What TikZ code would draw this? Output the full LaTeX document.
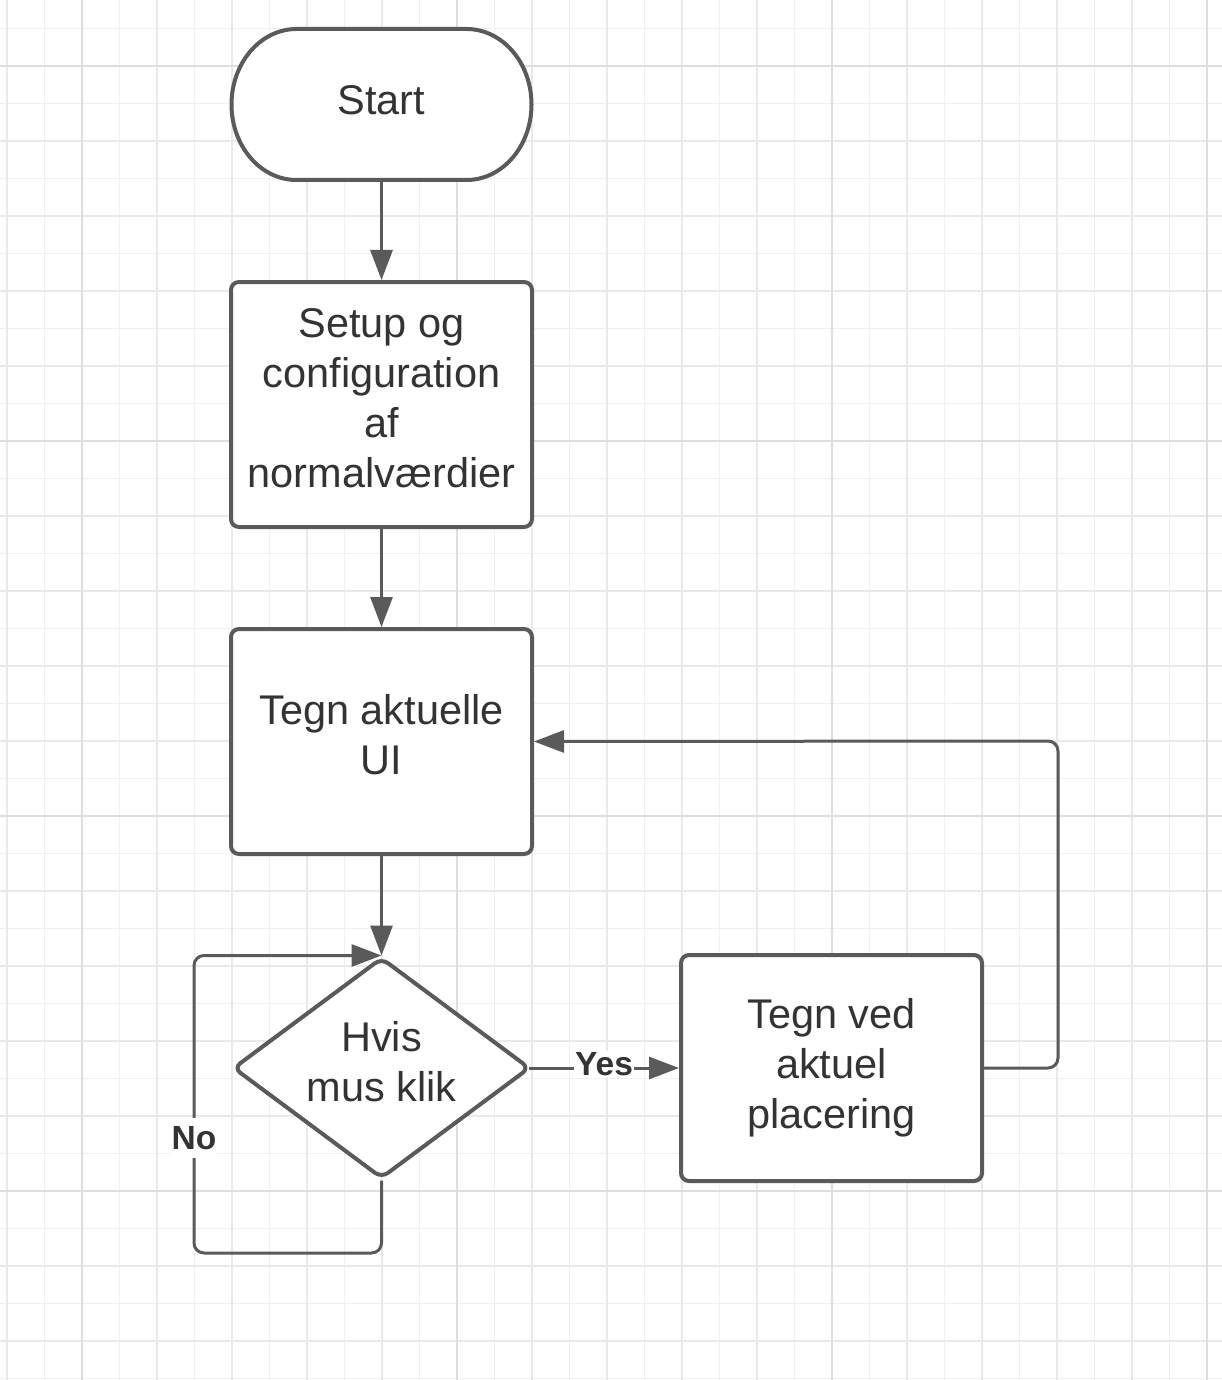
\documentclass[tikz,border=0pt]{standalone}
\usepackage{fontspec}
\setmainfont{Liberation Sans}
\usetikzlibrary{arrows.meta,shapes.geometric}
\definecolor{edgec}{HTML}{5A5A5A}
\definecolor{txtc}{HTML}{333333}
\definecolor{gminor}{HTML}{F0F0F0}
\definecolor{gmid}{HTML}{E9E9E9}
\definecolor{gmajor}{HTML}{DEDEDE}
\begin{document}
\begin{tikzpicture}[x=1pt,y=-1pt,
  shapebox/.style={draw=edgec,line width=4pt,rounded corners=8pt,fill=white,inner sep=0pt},
  ghost/.style={inner sep=0pt,minimum width=301pt,minimum height=151pt},
  txt/.style={text=txtc,align=center,font=\fontsize{41.5}{50}\selectfont},
  lbl/.style={text=txtc,fill=white,inner sep=1pt,font=\fontsize{33.5}{38}\selectfont\bfseries},
  conn/.style={draw=edgec,line width=3pt,-{Triangle[length=30pt,width=22pt]}}]
\useasboundingbox (0,0) rectangle (1222,1380);
\fill[white] (0,0) rectangle (1222,1380);
% grid
\foreach \i in {-2,...,30} {
  \pgfmathsetmacro\gx{82+37.5*\i}
  \draw[gminor,line width=1.5pt] (\gx,0) -- (\gx,1380);
}
\foreach \i in {-1,...,36} {
  \pgfmathsetmacro\gy{66+37.5*\i}
  \draw[gminor,line width=1.5pt] (0,\gy) -- (1222,\gy);
}
\foreach \i in {-1,...,15} {
  \pgfmathsetmacro\gx{82+75*\i}
  \draw[gmid,line width=1.7pt] (\gx,0) -- (\gx,1380);
}
\foreach \i in {-1,...,18} {
  \pgfmathsetmacro\gy{66+75*\i}
  \draw[gmid,line width=1.7pt] (0,\gy) -- (1222,\gy);
}
\foreach \gx in {82,457,832,1207} \draw[gmajor,line width=2pt] (\gx,0) -- (\gx,1380);
\foreach \gy in {66,441,816,1191} \draw[gmajor,line width=2pt] (0,\gy) -- (1222,\gy);

% Start terminal
\node[ghost] (start) at (381.5,104.5) {};
\filldraw[draw=edgec,fill=white,line width=4pt]
  (296.5,29) -- (466.5,29) arc[start angle=-90,end angle=90,x radius=65,y radius=75.5]
  -- (296.5,180) arc[start angle=90,end angle=270,x radius=65,y radius=75.5] -- cycle;
\node[txt] (starttxt) at (381.5,100) {Start};

% Setup box
\node[shapebox,minimum width=301pt,minimum height=245pt] (setup) at (381.5,404.5) {};
\node[txt] (setuptxt) at (381.5,398) {Setup og\\configuration\\af\\normalværdier};

% Tegn aktuelle UI
\node[shapebox,minimum width=301pt,minimum height=225pt] (tu) at (381.5,741.5) {};
\node[txt] (tutxt) at (381.5,735) {Tegn aktuelle\\UI};

% Decision
\node[shapebox,diamond,aspect=1.35,minimum width=297pt,minimum height=221pt] (dia) at (381.5,1068) {};
\node[txt] (diatxt) at (381.5,1062) {Hvis\\mus klik};

% Tegn ved aktuel placering
\node[shapebox,minimum width=301pt,minimum height=226pt] (tv) at (831.5,1068) {};
\node[txt] (tvtxt) at (831.5,1068) {Tegn ved\\aktuel\\placering};

% connectors
\draw[conn] (start.south) -- (setup.north);
\draw[conn] (setup.south) -- (tu.north);
\draw[conn] (tu.south) -- (dia.north);
\draw[conn] ([xshift=-3pt]dia.east) -- (tv.west) node[lbl,midway,yshift=4pt] (yes) {Yes};
\coordinate (fbc) at (1058,741);
\draw[conn,rounded corners=10pt] (tv.east) -| (fbc) -- (tu.east);
\coordinate (noc) at (194,1253);
\draw[conn,rounded corners=10pt] (dia.south) |- (noc) |- (dia.north);
\node[lbl,inner ysep=8pt] (no) at (194,1138) {No};
\end{tikzpicture}
\end{document}
